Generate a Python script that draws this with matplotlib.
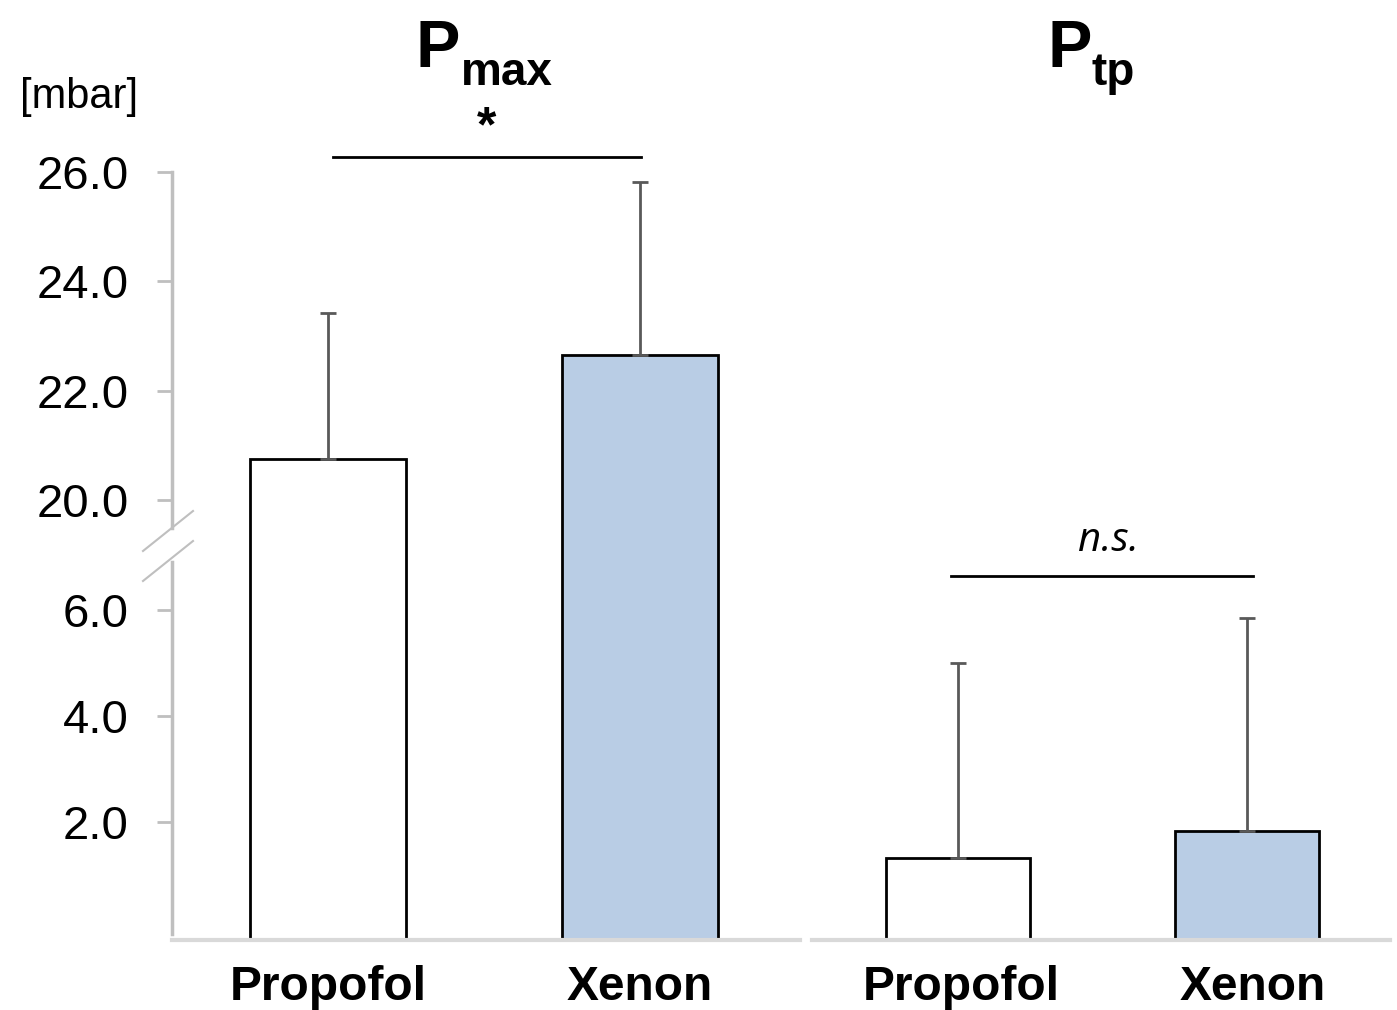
import matplotlib
matplotlib.use("Agg")
import matplotlib.pyplot as plt
import matplotlib.transforms as mtransforms
from matplotlib.lines import Line2D
import numpy as np

plt.rcParams['font.family'] = ['Liberation Sans', 'DejaVu Sans']

# data (mean, SD)
groups = ['Propofol', 'Xenon']
pmax_mean = [20.75, 22.65]
pmax_sd = [2.67, 3.16]
ptp_mean = [1.32, 1.83]
ptp_sd = [3.68, 4.02]
upper_ticks = [20.0, 22.0, 24.0, 26.0]
lower_ticks = [2.0, 4.0, 6.0]
bar_colors = ['white', '#B9CDE5']

W, H = 1397, 1010
fig = plt.figure(figsize=(W / 100, H / 100), dpi=100)


def box(left, top, right, bottom):
    # pixel box -> figure fraction rect
    return [left / W, 1 - bottom / H, (right - left) / W, (bottom - top) / H]


axis_grey = '#BFBFBF'
base_grey = '#D9D9D9'
err_grey = '#595959'

# lower part reaches up to the upper part so bars run through the break
ax_up = fig.add_axes(box(172, 172, 800, 528))
ax_lo = fig.add_axes(box(172, 528, 800, 940))
ax_r = fig.add_axes(box(812, 172, 1390, 940))

x = np.arange(len(groups))
px_unit = 53.0
lo_min = -0.226
lo_max = lo_min + 412 / px_unit
lo_axis_top = lo_min + 378 / px_unit

for ax in (ax_up, ax_lo, ax_r):
    for s in ('top', 'right'):
        ax.spines[s].set_visible(False)
    ax.patch.set_alpha(0)

for ax, bottom in ((ax_up, 0), (ax_lo, lo_min)):
    ax.bar(x, np.array(pmax_mean) - bottom, bottom=bottom, width=0.5,
           color=bar_colors, edgecolor='black', linewidth=2, zorder=2)
    ax.set_xlim(-0.5, 1.513)

ax_up.errorbar(x, pmax_mean, yerr=[np.zeros(2), pmax_sd], fmt='none',
               ecolor=err_grey, elinewidth=2, capsize=6, capthick=2, zorder=3)

ax_up.set_ylim(19.488, 26.0)
ax_up.set_yticks(upper_ticks)
ax_up.set_yticklabels(['%.1f' % t for t in upper_ticks])
ax_up.spines['bottom'].set_visible(False)
ax_up.set_xticks([])

ax_lo.set_ylim(lo_min, lo_max)
ax_lo.set_yticks(lower_ticks)
ax_lo.set_yticklabels(['%.1f' % t for t in lower_ticks])
ax_lo.spines['left'].set_bounds(-0.11, lo_axis_top)

for ax in (ax_up, ax_lo):
    ax.spines['left'].set_color(axis_grey)
    ax.spines['left'].set_linewidth(2.5)
    ax.tick_params(axis='y', length=11, width=2, color=axis_grey,
                   labelsize=34, pad=20)

# right panel
ax_r.bar(x, np.array(ptp_mean) - lo_min, bottom=lo_min, width=0.5,
         color=bar_colors, edgecolor='black', linewidth=2, zorder=2)
ax_r.errorbar(x, ptp_mean, yerr=[np.zeros(2), ptp_sd], fmt='none',
              ecolor=err_grey, elinewidth=2, capsize=6, capthick=2, zorder=3)
ax_r.set_xlim(-0.505, 1.495)
ax_r.set_ylim(lo_min, lo_min + 768 / px_unit)
ax_r.spines['left'].set_visible(False)
ax_r.set_yticks([])

for ax in (ax_lo, ax_r):
    ax.spines['bottom'].set_color(base_grey)
    ax.spines['bottom'].set_linewidth(3)
    ax.set_xticks(x)
    ax.set_xticklabels(groups, fontsize=34.5, fontweight='bold')
    ax.tick_params(axis='x', length=0, pad=18)

# labels under the right panel sit a little right of the bar centres
for lab, dx in zip(ax_r.get_xticklabels(), (3, 6)):
    lab.set_transform(lab.get_transform() +
                      mtransforms.ScaledTranslation(dx / 100, 0, fig.dpi_scale_trans))

# significance markers
ax_up.plot([0.016, 1.003], [26.27, 26.27], color='black', lw=2, clip_on=False)
ax_up.text(0.51, 26.80, '*', ha='center', va='center', fontsize=36,
           fontweight='bold')
ax_r.plot([-0.025, 1.02], [6.64, 6.64], color='black', lw=2, clip_on=False)
ax_r.text(0.52, 7.3, 'n.s.', ha='center', va='center', fontsize=29,
          style='italic', family=['Open Sans', 'DejaVu Sans'])

# axis break marks
for y0 in (551, 581):
    fig.add_artist(Line2D([143 / W, 193 / W], [1 - y0 / H, 1 - (y0 - 40) / H],
                          color=axis_grey, lw=1.5))

# unit and panel titles
fig.text(20 / W, 1 - 108 / H, '[mbar]', fontsize=30, va='baseline')
fig.text(416 / W, 1 - 67 / H, 'P', fontsize=48, fontweight='bold', va='baseline')
fig.text(461 / W, 1 - 85 / H, 'max', fontsize=33, fontweight='bold', va='baseline')
fig.text(1047 / W, 1 - 67 / H, 'P', fontsize=48, fontweight='bold', va='baseline')
fig.text(1092 / W, 1 - 85 / H, 'tp', fontsize=33, fontweight='bold', va='baseline')

fig.savefig('out.png', dpi=100)
